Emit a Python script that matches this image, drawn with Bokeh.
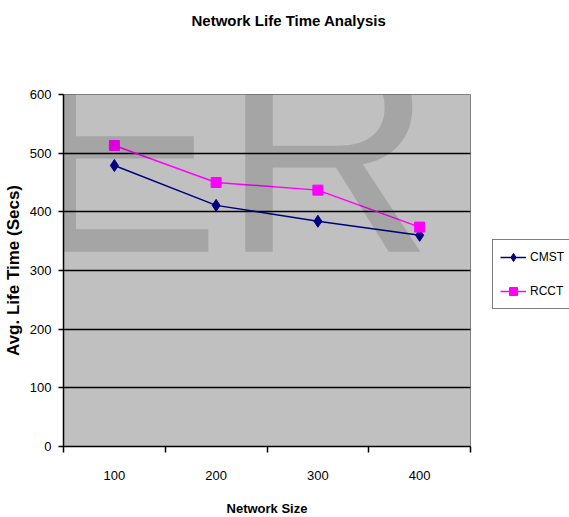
from bokeh.plotting import figure
from bokeh.models import (FactorRange, Range1d, LinearAxis, FixedTicker, Legend,
                          LegendItem, Label, Title, ColumnDataSource)
from bokeh.embed import file_html
from bokeh.resources import INLINE

categories = ["100", "200", "300", "400"]
cmst = [479, 411, 384, 360]
rcct = [513, 450, 437, 374]
y_ticks = [0, 100, 200, 300, 400, 500, 600]
title_text = "Network Life Time Analysis"
x_title = "Network Size"
y_title = "Avg. Life Time (Secs)"

SANS = "Liberation Sans"

src = ColumnDataSource(data=dict(cat=categories, cmst=cmst, rcct=rcct))

p = figure(frame_width=407, frame_height=352,
           x_range=FactorRange(factors=categories), y_range=Range1d(0, 600),
           x_axis_type=None, output_backend="svg", toolbar_location=None,
           min_border_left=62, min_border_right=100, min_border_top=94,
           min_border_bottom=71,
           background_fill_color="#c0c0c0", border_fill_color="white",
           outline_line_color="#808080", outline_line_width=1)

# title
p.title.text = title_text
p.title.align = "left"
p.title.offset = 128
p.title.standoff = 18
p.title.text_font = SANS
p.title.text_font_size = "15px"
p.title.text_font_style = "bold"
p.title.text_color = "black"

# empty spacer between title and plot area
p.add_layout(Title(text=" ", text_font_size="12px", standoff=41), "above")

# watermark
wm = Label(x=-236, y=506, x_units="screen", y_units="data", text="SER",
           text_font=SANS, text_font_size="295px", text_color="black",
           text_alpha=0.14, text_baseline="alphabetic", text_align="left",
           level="overlay")
p.add_layout(wm)

# y axis
ya = p.yaxis[0]
ya.ticker = FixedTicker(ticks=y_ticks)
ya.major_tick_out = 5
ya.major_tick_in = 0
ya.minor_tick_out = 0
ya.minor_tick_in = 0
ya.axis_line_color = "black"
ya.axis_line_width = 1.5
ya.major_tick_line_color = "black"
ya.major_tick_line_width = 1.5
ya.major_label_text_font = SANS
ya.major_label_text_font_size = "13px"
ya.major_label_text_color = "black"
ya.major_label_standoff = 7
ya.axis_label = y_title
ya.axis_label_text_font = SANS
ya.axis_label_text_font_size = "17px"
ya.axis_label_text_font_style = "bold"
ya.axis_label_text_color = "black"
ya.axis_label_standoff = 4

p.ygrid.ticker = FixedTicker(ticks=y_ticks[1:-1])
p.ygrid.grid_line_color = "black"
p.ygrid.grid_line_width = 1.5

# x axis: labels at category centres, ticks at category boundaries
n = len(categories)
xa = LinearAxis(
    ticker=FixedTicker(ticks=[i + 0.5 for i in range(n)],
                       minor_ticks=list(range(n + 1))),
    major_label_overrides={i + 0.5: c for i, c in enumerate(categories)},
    major_tick_out=0, major_tick_in=0, minor_tick_out=6, minor_tick_in=0,
    minor_tick_line_color="black", minor_tick_line_width=1.5,
    axis_line_color="black", axis_line_width=1.5,
    major_label_text_font=SANS, major_label_text_font_size="13px",
    major_label_text_color="black", major_label_standoff=18,
    axis_label=x_title, axis_label_text_font=SANS,
    axis_label_text_font_size="13px", axis_label_text_font_style="bold",
    axis_label_text_color="black", axis_label_standoff=18)
p.add_layout(xa, "below")

# series
l1 = p.line("cat", "cmst", source=src, line_color="#000080", line_width=1.5)
s1 = p.scatter("cat", "cmst", source=src, marker="diamond", size=12,
               fill_color="#000080", line_color="#000080")
l2 = p.line("cat", "rcct", source=src, line_color="#ff00ff", line_width=1.5)
s2 = p.scatter("cat", "rcct", source=src, marker="square", size=10,
               fill_color="#ff00ff", line_color="#ff00ff")

legend = Legend(items=[LegendItem(label="CMST", renderers=[l1, s1]),
                       LegendItem(label="RCCT", renderers=[l2, s2])],
                location=(22, 137), border_line_color="black",
                border_line_width=1.5, background_fill_color="white",
                background_fill_alpha=1.0,
                padding=7, spacing=14, glyph_width=26, glyph_height=20,
                label_standoff=4, label_text_font=SANS,
                label_text_font_size="12px", label_text_color="black",
                margin=0)
p.add_layout(legend, "right")

open("out.html", "w").write(file_html(p, INLINE))
